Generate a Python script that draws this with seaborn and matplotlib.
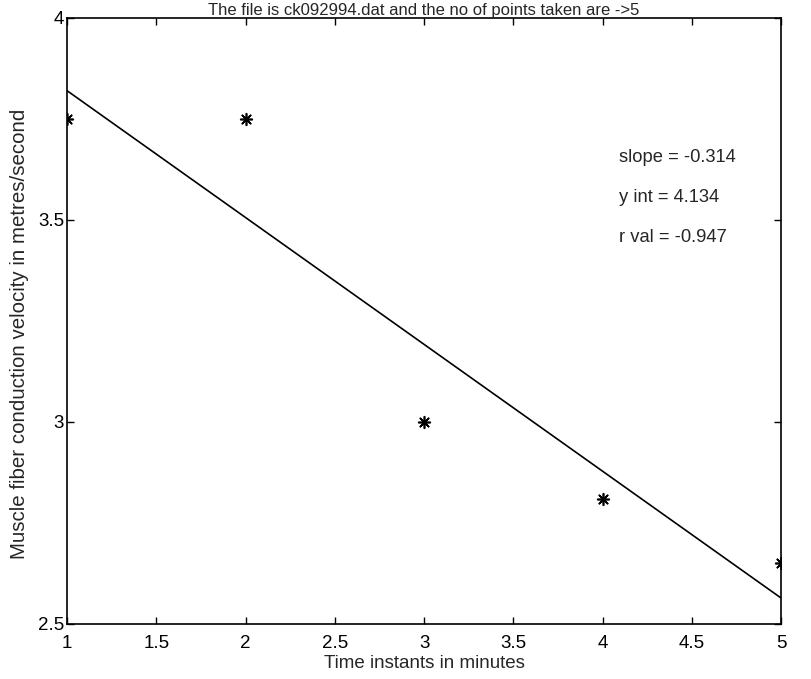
import matplotlib
matplotlib.use("Agg")
import matplotlib.pyplot as plt
import seaborn as sns
import pandas as pd

# Data
time_min = [1, 2, 3, 4, 5]
velocity = [3.75, 3.75, 3.0, 2.81, 2.65]
fit_x = [1, 5]
fit_y = [3.820, 2.564]
stats_labels = ["slope = -0.314", "y int = 4.134", "r val = -0.947"]
stats_y = [3.655, 3.556, 3.457]
x_ticks = [1, 1.5, 2, 2.5, 3, 3.5, 4, 4.5, 5]
y_ticks = [2.5, 3, 3.5, 4]

sns.set_style("white")
plt.rcParams['font.family'] = ['Liberation Sans', 'DejaVu Sans']

fig = plt.figure(figsize=(8.12, 6.79), dpi=100)
ax = fig.add_axes([0.0825, 0.0811, 0.8795, 0.8925])

pts = pd.DataFrame({"t": time_min, "v": velocity})
fit = pd.DataFrame({"t": fit_x, "v": fit_y})

sns.lineplot(data=fit, x="t", y="v", ax=ax, color="black", linewidth=1.2)
sns.scatterplot(data=pts, x="t", y="v", ax=ax, marker=(8, 2, 0), s=70,
                color="black", edgecolor="black", linewidth=1.2, zorder=3)

ax.set_xlim(1, 5)
ax.set_ylim(2.5, 4)
ax.set_xticks(x_ticks)
ax.set_xticklabels([f"{v:g}" for v in x_ticks])
ax.set_yticks(y_ticks)
ax.set_yticklabels([f"{v:g}" for v in y_ticks])
ax.tick_params(direction="in", length=5, width=1, top=True, right=True,
               bottom=True, left=True, labelsize=13.5, colors="black")
ax.tick_params(axis="x", pad=8)
ax.tick_params(axis="y", pad=2)
for s in ax.spines.values():
    s.set_color("black")
    s.set_linewidth(1.2)

ax.set_xlabel("Time instants in minutes", fontsize=13.5)
ax.xaxis.set_label_coords(0.5, -0.052, transform=ax.transAxes)
ax.set_ylabel("Muscle fiber conduction velocity in metres/second", fontsize=14.8)
ax.yaxis.set_label_coords(-0.053, 0.478, transform=ax.transAxes)
ax.set_title("The file is ck092994.dat and the no of points taken are ->5", fontsize=12, pad=2)

for lbl, yv in zip(stats_labels, stats_y):
    ax.text(4.09, yv, lbl, fontsize=13.2, va="center", ha="left")

fig.savefig("out.png", dpi=100)
